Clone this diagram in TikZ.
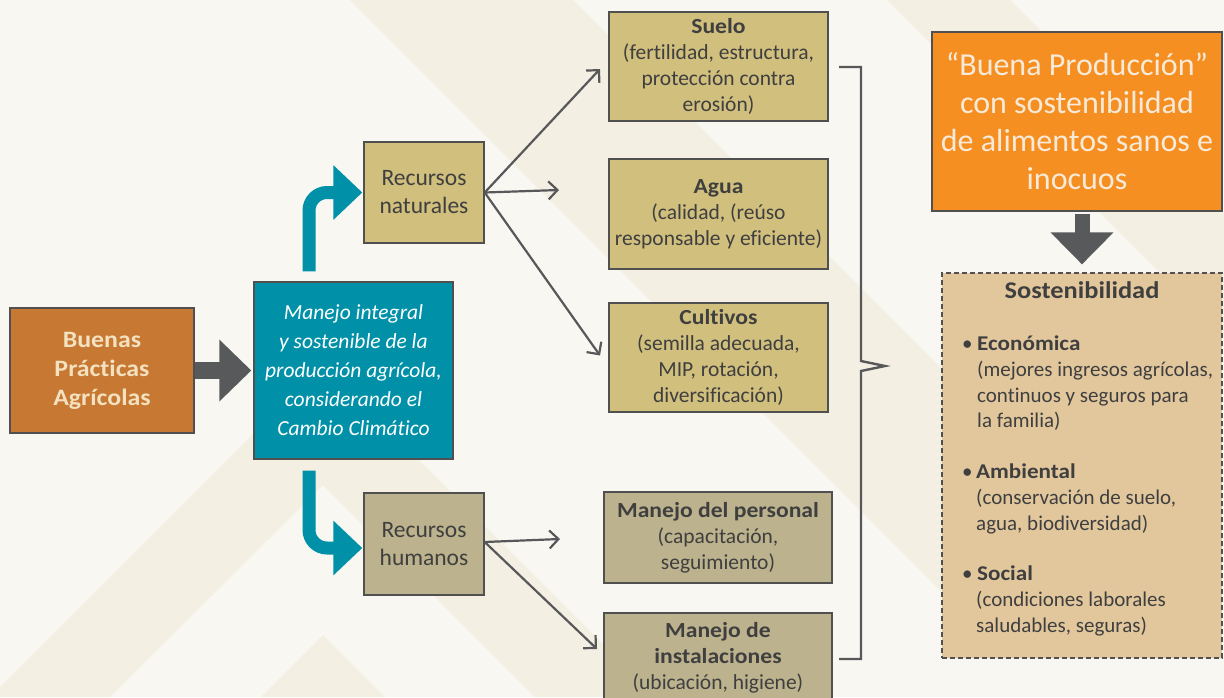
\documentclass[tikz,border=0pt]{standalone}
\usepackage{fontspec}
\setmainfont{Carlito}[Ligatures=NoCommon, BoldFeatures={FakeStretch=1.1}]
\usetikzlibrary{arrows.meta,calc}
\definecolor{bg}{HTML}{F8F7F2}
\definecolor{bgdark}{HTML}{F3EFE3}
\definecolor{bpafill}{HTML}{C77832}
\definecolor{bpatext}{HTML}{F3E1C0}
\definecolor{tealc}{HTML}{0091A8}
\definecolor{natfill}{HTML}{D1BF7D}
\definecolor{humfill}{HTML}{BCB28D}
\definecolor{bordergray}{HTML}{505050}
\definecolor{textdark}{HTML}{3F3F3F}
\definecolor{orangec}{HTML}{F58F22}
\definecolor{orangetext}{HTML}{F8EAD8}
\definecolor{sostfill}{HTML}{E2C79D}
\definecolor{fatgray}{HTML}{58595B}
\definecolor{linegray}{HTML}{58585A}
\begin{document}
\begin{tikzpicture}[x=1pt,y=-1pt,
  box/.style={draw=bordergray, line width=1.4pt, inner sep=0pt, align=center,
    text=textdark, font=\fontsize{21.5}{26}\selectfont},
  thinarrow/.style={draw=linegray, line width=2.2pt,
    -{Straight Barb[length=9pt,width=18pt]}},
  tealarrow/.style={draw=tealc, line width=13pt, rounded corners=18pt,
    -{Triangle[length=29pt,width=53pt]}},
  fatarrow/.style={draw=fatgray, line width=17pt,
    -{Triangle[length=32pt,width=60pt]}},
  sosttext/.style={anchor=base west, inner sep=0pt, text=textdark,
    font=\fontsize{21}{26}\selectfont},
]
\clip (0,0) rectangle (1224,697);
\fill[bg] (0,0) rectangle (1224,697);
% background decoration
\fill[bgdark] (350,0) -- (573,0) -- (942,369) -- (942,592) -- cycle;
\fill[bgdark] (887,0) -- (1010,0) -- (1224,214) -- (1224,337) -- cycle;
\fill[bgdark] (0,687) -- (323,364) -- (656,697) -- (535,697) -- (323,485) -- (110,697) -- (0,697) -- cycle;
\fill[bgdark] (261,697) -- (323,635) -- (385,697) -- cycle;

% nodes
\node[box, fill=bpafill, text=bpatext, minimum width=184pt, minimum height=125pt,
  font=\fontsize{23.5}{29}\selectfont\bfseries] (bpa) at (102,370.5)
  {Buenas\\Prácticas\\Agrícolas};
\node[box, fill=tealc, text=white, minimum width=199pt, minimum height=177pt,
  font=\fontsize{21.5}{29}\selectfont\itshape] (mis) at (353.5,370.5)
  {Manejo integral\\y sostenible de la\\producción agrícola,\\considerando el\\Cambio Climático};
\node[box, fill=natfill, minimum width=120pt, minimum height=101pt,
  font=\fontsize{23.5}{28}\selectfont] (nat) at (424,192.5) {Recursos\\naturales};
\node[box, fill=humfill, minimum width=120pt, minimum height=102pt,
  font=\fontsize{23.5}{28}\selectfont] (hum) at (424,544) {Recursos\\humanos};

\node[box, fill=natfill, minimum width=219pt, minimum height=109pt] (suelo) at (718.5,66.5)
  {\textbf{Suelo}\\(fertilidad, estructura,\\protección contra\\erosión)};
\node[box, fill=natfill, minimum width=219pt, minimum height=110pt] (agua) at (718.5,214)
  {\textbf{Agua}\\(calidad, (reúso\\responsable y eficiente)};
\node[box, fill=natfill, minimum width=219pt, minimum height=109pt] (cult) at (718.5,357.5)
  {\textbf{Cultivos}\\(semilla adecuada,\\MIP, rotación,\\diversificación)};
\node[box, fill=humfill, minimum width=228pt, minimum height=91pt] (pers) at (718,537.5)
  {\textbf{Manejo del personal}\\(capacitación,\\seguimiento)};
\node[box, fill=humfill, minimum width=228pt, minimum height=89pt] (inst) at (718,657.5)
  {\textbf{Manejo de}\\\textbf{instalaciones}\\(ubicación, higiene)};

\node[box, fill=orangec, text=orangetext, minimum width=290pt, minimum height=179pt,
  font=\fontsize{32}{38}\selectfont] (bp) at (1077,121.5)
  {“Buena Producción”\\con sostenibilidad\\de alimentos sanos e\\inocuos};

\node[draw=bordergray, line width=1.2pt, dash pattern=on 5pt off 3pt, fill=sostfill,
  minimum width=280pt, minimum height=385pt, inner sep=0pt] (sost) at (1082,465.5) {};
\node[anchor=base, inner sep=0pt, text=textdark, font=\fontsize{24}{26}\selectfont\bfseries]
  (sosttitle) at (1082,298) {Sostenibilidad};
\node[sosttext] (b1) at (962,350) {•};
\node[sosttext] (eco) at (977,350) {\textbf{Económica}};
\node[sosttext] (eco1) at (977,376) {(mejores ingresos agrícolas,};
\node[sosttext] (eco2) at (977,402) {continuos y seguros para};
\node[sosttext] (eco3) at (977,427) {la familia)};
\node[sosttext] (b2) at (962,478) {•};
\node[sosttext] (amb) at (976,478) {\textbf{Ambiental}};
\node[sosttext] (amb1) at (976,504) {(conservación de suelo,};
\node[sosttext] (amb2) at (976,530) {agua, biodiversidad)};
\node[sosttext] (b3) at (962,580) {•};
\node[sosttext] (soc) at (977,580) {\textbf{Social}};
\node[sosttext] (soc1) at (976,606) {(condiciones laborales};
\node[sosttext] (soc2) at (976,632) {saludables, seguras)};

% connectors
\draw[fatarrow, shorten >=2pt] (bpa.east) -- (mis.west);
\draw[tealarrow, shorten >=1pt] ($(mis.north)+(-44.5,-10)$) |- (nat.west);
\draw[tealarrow, shorten >=1pt] ($(mis.south)+(-44.5,11)$) |- ($(hum.west)+(0,4)$);
\draw[fatgray, line width=15pt, -{Triangle[length=32pt,width=61pt]}]
  ($(sost.north)+(0,-58)$) -- ($(sost.north)+(0,-8)$);

\coordinate (t1) at (600,69);
\coordinate (t2) at (559,190);
\coordinate (t3) at (600,355.5);
\coordinate (t4) at (560,539);
\coordinate (t5) at (597,649);
\draw[thinarrow] (nat.east) -- (t1);
\draw[thinarrow] (nat.east) -- (t2);
\draw[thinarrow] (nat.east) -- (t3);
\draw[thinarrow] ($(hum.east)+(0,-2)$) -- (t4);
\draw[thinarrow] ($(hum.east)+(0,-2)$) -- (t5);

% bracket
\coordinate (k1) at (839,67);
\coordinate (k2) at (839,659);
\coordinate (kp) at (885,366);
\draw[draw=linegray, line width=2.4pt]
  (k1) -- (861,67) -- (861,361) -- (kp) -- (861,371) -- (861,659) -- (k2);
\end{tikzpicture}
\end{document}
